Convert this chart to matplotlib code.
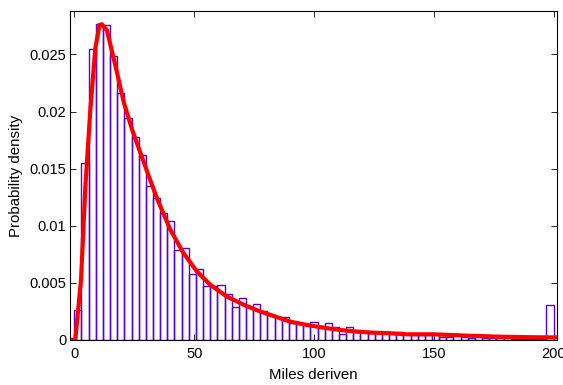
import numpy as np
import matplotlib
matplotlib.use("Agg")
import matplotlib.pyplot as plt

plt.rcParams['font.family'] = ['Liberation Sans', 'DejaVu Sans']

# ヒストグラム（確率密度）: 0〜200 マイルを 67 ビン
n_bins = 67
x_min, x_max = 0, 200
density = [
    0.00264, 0.01547, 0.02547, 0.02764, 0.02758, 0.02488, 0.02163, 0.01945,
    0.01775, 0.01622, 0.01349, 0.01244, 0.01112, 0.01042, 0.00792, 0.00807,
    0.00578, 0.00622, 0.00469, 0.00469, 0.00481, 0.00400, 0.00288, 0.00367,
    0.00290, 0.00314, 0.00250, 0.00220, 0.00200, 0.00200, 0.00150, 0.00140,
    0.00130, 0.00156, 0.00120, 0.00147, 0.00117, 0.00053, 0.00117, 0.00090,
    0.00070, 0.00060, 0.00070, 0.00060, 0.00060, 0.00073, 0.00050, 0.00040,
    0.00045, 0.00040, 0.00053, 0.00030, 0.00030, 0.00050, 0.00030, 0.00020,
    0.00025, 0.00020, 0.00015, 0.00020, 0.00015, 0.00010, 0.00012, 0.00010,
    0.00010, 0.00010, 0.00308,
]

# フィットした分布の曲線（画像から読み取った点）
fit_x = [-1.7, 0.4, 2.8, 4.6, 6.7, 8.75, 10.5, 11.5, 13.6, 17.1, 20.6, 24.0,
         27.5, 31.0, 34.5, 40.0, 45.5, 51.1, 56.7, 63.6, 70.5, 77.5, 83.0,
         90.0, 97.0, 103.9, 110.8, 117.8, 124.7, 131.7, 138.6, 149.7, 163.6,
         177.5, 191.4, 201.3]
fit_y = [0.0, 0.0, 0.0053, 0.0134, 0.0202, 0.0255, 0.02758, 0.02764, 0.0271,
         0.02406, 0.02084, 0.01849, 0.01643, 0.01438, 0.0124, 0.00968, 0.00763,
         0.00601, 0.00484, 0.00381, 0.0031, 0.0025, 0.00211, 0.00161, 0.00132,
         0.00108, 0.00088, 0.00073, 0.00064, 0.00059, 0.0005, 0.0005, 0.00038,
         0.00029, 0.00024, 0.00022]

x_ticks = [0, 50, 100, 150, 200]
y_ticks = [0, 0.005, 0.01, 0.015, 0.02, 0.025]
y_tick_labels = ['0', '0.005', '0.01', '0.015', '0.02', '0.025']

edges = np.linspace(x_min, x_max, n_bins + 1)
bw = edges[1] - edges[0]

fig = plt.figure(figsize=(5.63, 3.85), dpi=100)
ax = fig.add_axes([0.1252, 0.1169, 0.8641, 0.8545])

ax.bar(edges[:-1], density, width=bw, align='edge', fill=False,
       edgecolor='#5a00d0', linewidth=1.0)
ax.plot(fit_x, fit_y, color='#ff0000', linewidth=3.0, solid_joinstyle='round')

ax.set_xlim(-1.6, 201.4)
ax.set_ylim(0, 0.0288)
ax.set_xticks(x_ticks)
ax.set_xticklabels([str(t) for t in x_ticks])
ax.set_yticks(y_ticks)
ax.set_yticklabels(y_tick_labels)
ax.tick_params(direction='in', top=True, right=True, length=4, width=0.6,
               labelsize=10.5)
ax.tick_params(axis='x', pad=5)
ax.tick_params(axis='y', pad=3)
for s in ax.spines.values():
    s.set_linewidth(0.8)

ax.set_xlabel('Miles deriven', fontsize=10.8)
ax.set_ylabel('Probability density', fontsize=10.8)
ax.xaxis.set_label_coords(0.5, -0.085)
ax.yaxis.set_label_coords(-0.098, 0.5)

fig.savefig('out.png', dpi=100)
